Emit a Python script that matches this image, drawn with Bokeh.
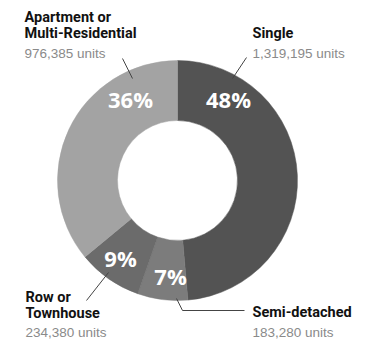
import math
from bokeh.plotting import figure
from bokeh.models import ColumnDataSource, Range1d
from bokeh.embed import file_html
from bokeh.resources import INLINE
from bokeh.core.properties import value

# ---- data ----
categories = ["Single", "Semi-detached", "Row or Townhouse", "Apartment or Multi-Residential"]
units = [1319195, 183280, 234380, 976385]
pct_labels = ["48%", "7%", "9%", "36%"]
unit_labels = ["1,319,195 units", "183,280 units", "234,380 units", "976,385 units"]
name_lines = [["Single"], ["Semi-detached"], ["Row or", "Townhouse"], ["Apartment or", "Multi-Residential"]]

# ---- style / layout ----
W, H = 368, 344
colors = ["#535353", "#7c7c7c", "#6b6b6b", "#a3a3a3"]
CX, CY = 177, 180          # donut centre (pixel coords, y down)
R_IN, R_OUT = 60, 120

def Y(yp):
    return H - yp

p = figure(width=W, height=H, output_backend="svg", toolbar_location=None,
           x_range=Range1d(0, W), y_range=Range1d(0, H), min_border=0)
p.axis.visible = False
p.grid.visible = False
p.outline_line_color = None
p.background_fill_color = "white"
p.border_fill_color = "white"

total = float(sum(units))
starts, ends = [], []
cum = 0.0
for u in units:
    a0 = math.pi / 2 - cum / total * 2 * math.pi
    cum += u
    a1 = math.pi / 2 - cum / total * 2 * math.pi
    starts.append(a0)
    ends.append(a1)

src = ColumnDataSource(dict(start=starts, end=ends, color=colors, name=categories))
p.annular_wedge(x=CX, y=Y(CY), inner_radius=R_IN, outer_radius=R_OUT,
                start_angle="start", end_angle="end", direction="clock",
                fill_color="color", line_color="color", line_width=0.5, source=src)

# percentage label positions (pixel layout)
pct_pos = [(228, 98), (170, 275), (120, 257), (130, 98)]
p.text(x=[q[0] for q in pct_pos], y=[Y(q[1]) for q in pct_pos], text=pct_labels,
       text_color="white", text_font=value("Open Sans"), text_font_style="bold",
       text_font_size="22px", text_align="center", text_baseline="middle")

# leader lines (pixel layout)
leaders = [
    [(246, 57), (232, 78)],
    [(176, 298), (182, 310), (244, 310)],
    [(108, 272), (86, 300)],
    [(122, 58), (132, 78)],
]
p.multi_line(xs=[[pt[0] for pt in l] for l in leaders],
             ys=[[Y(pt[1]) for pt in l] for l in leaders],
             line_color="#444444", line_width=1)

# category names + unit counts (pixel layout)
name_pos = [(252, 33), (252, 312), (25, 297), (24, 17)]
unit_pos = [(252, 53), (252, 332), (25, 332), (24, 53)]
LINE_H = 16
nx, ny, nt = [], [], []
for (x0, y0), lines in zip(name_pos, name_lines):
    for i, t in enumerate(lines):
        nx.append(x0)
        ny.append(Y(y0 + i * LINE_H))
        nt.append(t)
p.text(x=nx, y=ny, text=nt, text_color="#111111",
       text_font=value("Roboto"), text_font_style="bold",
       text_font_size="14.5px", text_align="left", text_baseline="middle")
p.text(x=[q[0] for q in unit_pos], y=[Y(q[1]) for q in unit_pos], text=unit_labels,
       text_color="#8a8a8a", text_font=value("Liberation Sans"),
       text_font_size="13.5px", text_align="left", text_baseline="middle")

open("out.html", "w").write(file_html(p, INLINE))
